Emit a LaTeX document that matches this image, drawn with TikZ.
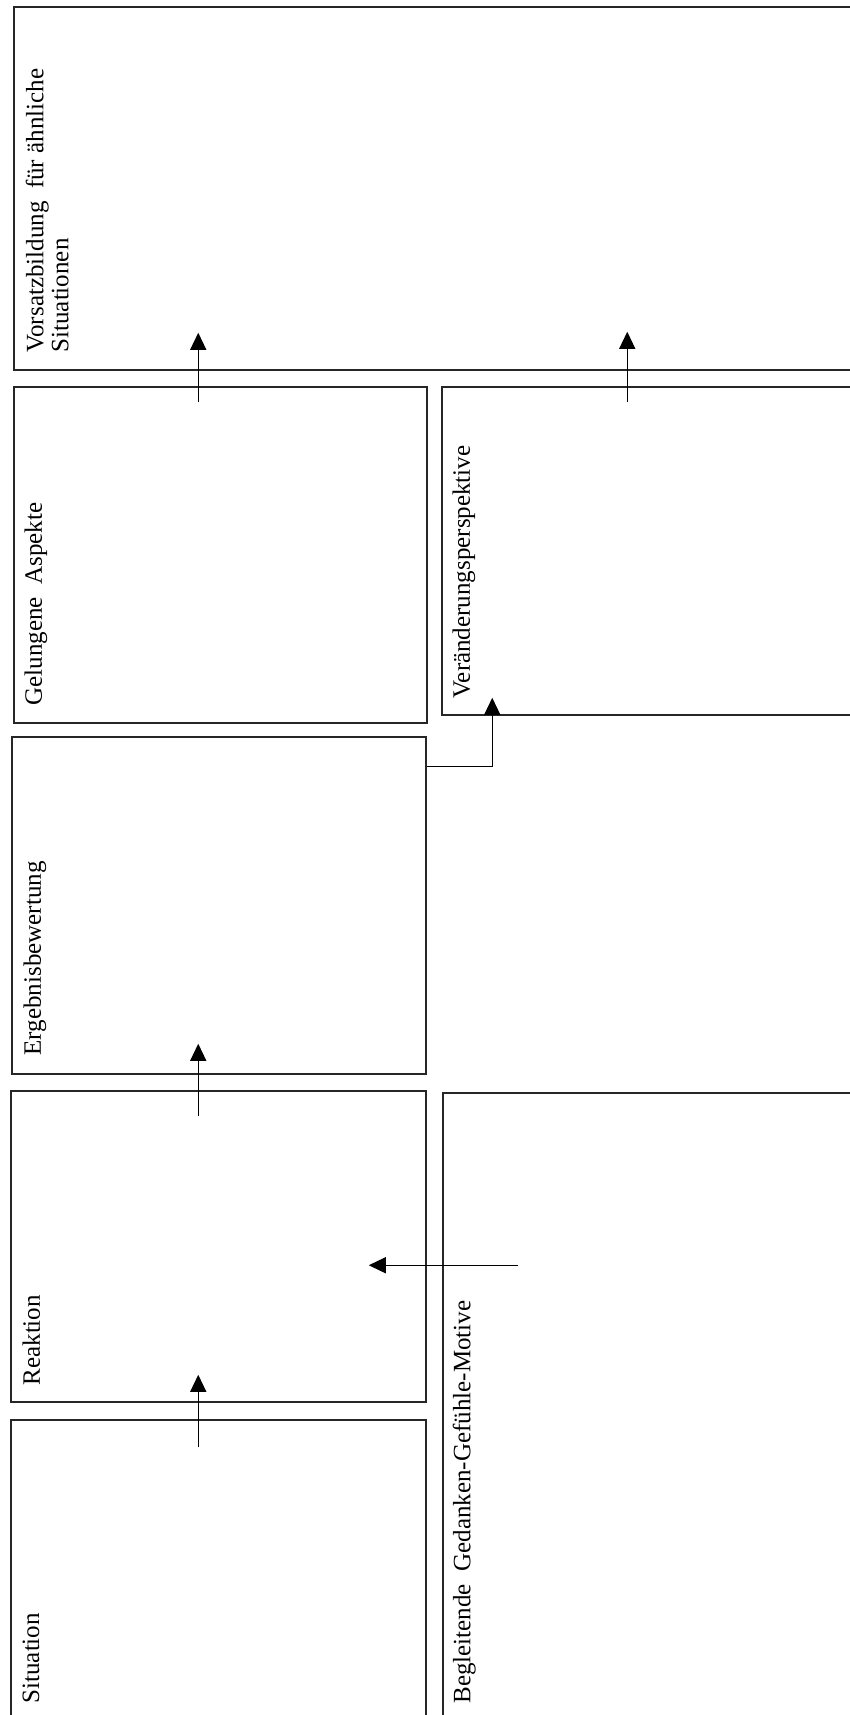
\documentclass[tikz,border=0pt]{standalone}
\usepackage{fontspec}
\setmainfont{Liberation Serif}
\usetikzlibrary{fit,arrows.meta}

\begin{document}
\begin{tikzpicture}[x=0.5pt, y=-0.5pt,
    box/.style={draw=black!85, line width=0.75pt, inner sep=0pt},
    lbl/.style={rotate=90, anchor=north west, inner sep=0pt, align=left,
        font=\fontsize{12.5}{12.5}\selectfont},
    conn/.style={->, line width=0.6pt},
    >={Triangle[length=8.5pt, width=8pt]}]
    \useasboundingbox (0,0) rectangle (850,1715);
    \clip (0,0) rectangle (850,1715);
    \node[box, fit={(14,7) (870,370)}] (vors) {};
    \node[box, fit={(14,387) (427,723)}] (gel) {};
    \node[box, fit={(442,387) (870,715)}] (verand) {};
    \node[box, fit={(12,737) (426,1074)}] (ergeb) {};
    \node[box, fit={(11,1091) (426,1402)}] (reak) {};
    \node[box, fit={(11,1420) (426,1720)}] (sit) {};
    \node[box, fit={(443,1093) (870,1720)}] (begl) {};
    \node[lbl] (vorslbl) at ([shift={(12,-18)}]vors.south west) {Vorsatzbildung\ \ für ähnliche\\Situationen};
    \node[lbl] (gellbl) at ([shift={(11,-18)}]gel.south west) {Gelungene\ \ Aspekte};
    \node[lbl] (veralbl) at ([shift={(11,-17)}]verand.south west) {Veränderungsperspektive};
    \node[lbl] (ergeblbl) at ([shift={(12,-19)}]ergeb.south west) {Ergebnisbewertung};
    \node[lbl] (reaklbl) at ([shift={(12,-17)}]reak.south west) {Reaktion};
    \node[lbl] (sitlbl) at ([shift={(12,-17)}]sit.south west) {Situation};
    \node[lbl] (begllbl) at ([shift={(10,-17)}]begl.south west) {Begleitende\ \ Gedanken-Gefühle-Motive};
    \draw[conn] ([shift={(188,28)}]sit.north west) -- ([shift={(188,-28)}]reak.south west);
    \draw[conn] ([shift={(188,26)}]reak.north west) -- ([shift={(187,-31)}]ergeb.south west);
    \draw[conn] ([shift={(185,16)}]gel.north west) -- ([shift={(185,-38)}]vors.south west);
    \draw[conn] ([shift={(186,16)}]verand.north west) -- ([shift={(614,-39)}]vors.south west);
    \draw[conn] ([shift={(0,30)}]ergeb.north east) -| ([shift={(51,-18)}]verand.south west);
    \draw[conn] ([shift={(76,173)}]begl.north west) -- ([shift={(-58,175)}]reak.north east);
\end{tikzpicture}
\end{document}
